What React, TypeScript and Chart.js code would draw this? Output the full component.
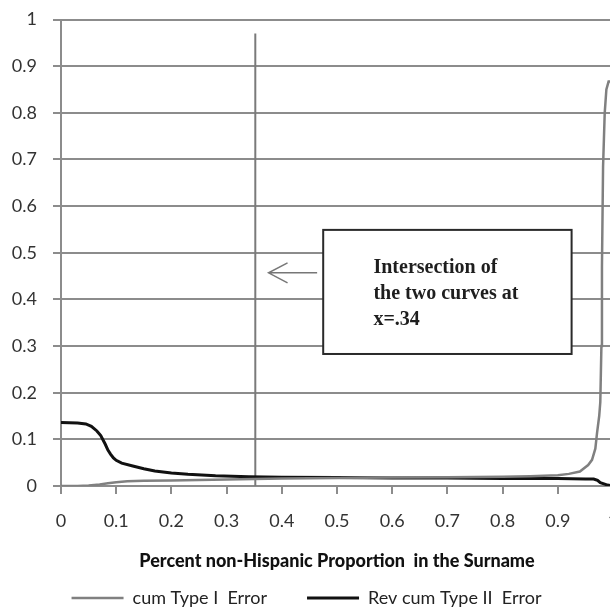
import React, { useEffect, useRef } from "react";
import { Chart, registerables } from "chart.js";

Chart.register(...registerables);

// cum Type I Error (gray)
const typeIX = [0, 0.03, 0.05, 0.07, 0.085, 0.1, 0.12, 0.15, 0.2, 0.3, 0.35, 0.4, 0.5, 0.6, 0.7, 0.8, 0.85, 0.9, 0.92, 0.94, 0.955, 0.962, 0.968, 0.971, 0.975, 0.977, 0.979, 0.98, 0.982, 0.985, 0.988, 0.992, 1.0];
const typeIY = [0, 0, 0.001, 0.003, 0.006, 0.008, 0.01, 0.011, 0.012, 0.014, 0.015, 0.016, 0.017, 0.018, 0.019, 0.02, 0.021, 0.023, 0.026, 0.031, 0.045, 0.056, 0.08, 0.113, 0.15, 0.18, 0.3, 0.47, 0.685, 0.8, 0.85, 0.867, 0.867];

// Rev cum Type II Error (black)
const typeIIX = [0, 0.03, 0.045, 0.055, 0.065, 0.072, 0.08, 0.085, 0.09, 0.095, 0.1, 0.11, 0.13, 0.15, 0.17, 0.2, 0.23, 0.28, 0.34, 0.4, 0.5, 0.6, 0.7, 0.8, 0.9, 0.95, 0.965, 0.972, 0.977, 0.985, 0.99, 1.0];
const typeIIY = [0.136, 0.135, 0.133, 0.128, 0.118, 0.108, 0.09, 0.077, 0.068, 0.06, 0.055, 0.049, 0.043, 0.037, 0.032, 0.028, 0.025, 0.022, 0.02, 0.019, 0.018, 0.017, 0.017, 0.016, 0.016, 0.015, 0.015, 0.012, 0.007, 0.004, 0.002, 0];

// Vertical intersection marker
const markerX = [0.352, 0.352];
const markerY = [0, 0.97];

const seriesLabels = ["cum Type I  Error", "Rev cum Type II  Error"];
const xTitle = "Percent non-Hispanic Proportion  in the Surname";
const noteLines = ["Intersection of", "the two curves at", "x=.34"];

// annotation placement in data units
const noteBox = { x0: 0.475, x1: 0.925, y0: 0.283, y1: 0.549 };
const noteTextX = 0.566;
const noteTextY = [0.468, 0.4125, 0.356];
const arrow = { from: 0.464, to: 0.376, y: 0.457 };

const pts = (xs: number[], ys: number[]) => xs.map((x, i) => ({ x, y: ys[i] }));
const fmt = (v: number | string) => String(Number(Number(v).toFixed(1)));

export default function App() {
  const ref = useRef<HTMLCanvasElement>(null);

  useEffect(() => {
    const canvas = ref.current;
    if (!canvas) return;

    const notePlugin = {
      id: "note",
      afterDatasetsDraw(chart: any) {
        const { ctx, scales } = chart;
        const xs = scales.x;
        const ys = scales.y;
        const l = xs.getPixelForValue(noteBox.x0);
        const r = xs.getPixelForValue(noteBox.x1);
        const t = ys.getPixelForValue(noteBox.y1);
        const b = ys.getPixelForValue(noteBox.y0);
        ctx.save();
        ctx.fillStyle = "#ffffff";
        ctx.fillRect(l, t, r - l, b - t);
        ctx.strokeStyle = "#2a2a2a";
        ctx.lineWidth = 2;
        ctx.strokeRect(l, t, r - l, b - t);
        ctx.fillStyle = "#1e1e1e";
        ctx.font = "bold 20px 'Liberation Serif', 'Times New Roman', serif";
        ctx.textAlign = "left";
        ctx.textBaseline = "middle";
        noteLines.forEach((line, i) => {
          ctx.fillText(line, xs.getPixelForValue(noteTextX), ys.getPixelForValue(noteTextY[i]));
        });
        // arrow
        const ax0 = xs.getPixelForValue(arrow.from);
        const ax1 = xs.getPixelForValue(arrow.to);
        const ay = ys.getPixelForValue(arrow.y);
        ctx.strokeStyle = "#777777";
        ctx.lineWidth = 1.5;
        ctx.beginPath();
        ctx.moveTo(ax0, ay);
        ctx.lineTo(ax1, ay);
        ctx.moveTo(ax1 + 19, ay - 10);
        ctx.lineTo(ax1, ay);
        ctx.lineTo(ax1 + 19, ay + 10);
        ctx.stroke();
        ctx.restore();
      },
    };

    const family = "Lato, 'Open Sans', sans-serif";
    const tickFont = { family, size: 18 };
    const gridColor = "#8c8c8c";

    const chart = new Chart(canvas, {
      type: "line",
      data: {
        datasets: [
          {
            label: seriesLabels[0],
            data: pts(typeIX, typeIY),
            borderColor: "#808080",
            backgroundColor: "#808080",
            borderWidth: 2.5,
            pointRadius: 0,
            tension: 0,
          },
          {
            label: seriesLabels[1],
            data: pts(typeIIX, typeIIY),
            borderColor: "#111111",
            backgroundColor: "#111111",
            borderWidth: 3,
            pointRadius: 0,
            tension: 0,
          },
          {
            label: "marker",
            data: pts(markerX, markerY),
            borderColor: "#7a7a7a",
            backgroundColor: "#7a7a7a",
            borderWidth: 2,
            pointRadius: 0,
          },
        ],
      },
      options: {
        responsive: false,
        animation: false,
        parsing: false as any,
        layout: { padding: { top: 19.5, left: 0, right: 5, bottom: 0 } },
        plugins: {
          tooltip: { enabled: false },
          legend: {
            position: "bottom",
            labels: {
              usePointStyle: true,
              pointStyle: "line",
              pointStyleWidth: 52,
              font: { family, size: 18 },
              color: "#222",
              padding: 40,
              filter: (item: any) => item.datasetIndex < 2,
            },
          },
        },
        scales: {
          x: {
            type: "linear",
            min: 0,
            max: 1,
            afterFit: (s: any) => {
              s.height = 617 - 486 - 68;
              s.paddingLeft = 0;
              s.paddingRight = 0;
            },
            ticks: {
              stepSize: 0.1,
              callback: (v: any) => fmt(v),
              font: tickFont,
              color: "#333",
              padding: 16,
              maxRotation: 0,
            },
            grid: {
              drawOnChartArea: false,
              drawTicks: true,
              tickLength: 8,
              color: gridColor,
              lineWidth: 2,
            },
            border: { display: true, color: gridColor, width: 2 },
            title: {
              display: true,
              text: xTitle,
              font: { family, size: 18, weight: 900 },
              color: "#111",
              padding: { top: 0, bottom: -23 },
            },
          },
          y: {
            type: "linear",
            min: 0,
            max: 1,
            afterFit: (s: any) => {
              s.width = 61;
              s.paddingTop = 0;
              s.paddingBottom = 0;
            },
            ticks: {
              stepSize: 0.1,
              callback: (v: any) => fmt(v),
              font: tickFont,
              color: "#333",
              padding: 16,
            },
            grid: {
              drawOnChartArea: true,
              drawTicks: true,
              tickLength: 8,
              color: gridColor,
              lineWidth: 2,
            },
            border: { display: true, color: gridColor, width: 2 },
          },
        },
      },
      plugins: [notePlugin],
    } as any);

    return () => chart.destroy();
  }, []);

  return (
    <div
      style={{
        position: "fixed",
        left: 0,
        top: 0,
        width: 610,
        height: 608,
        overflow: "hidden",
        background: "#ffffff",
      }}
    >
      <canvas ref={ref} width={618} height={617} style={{ display: "block" }} />
    </div>
  );
}
